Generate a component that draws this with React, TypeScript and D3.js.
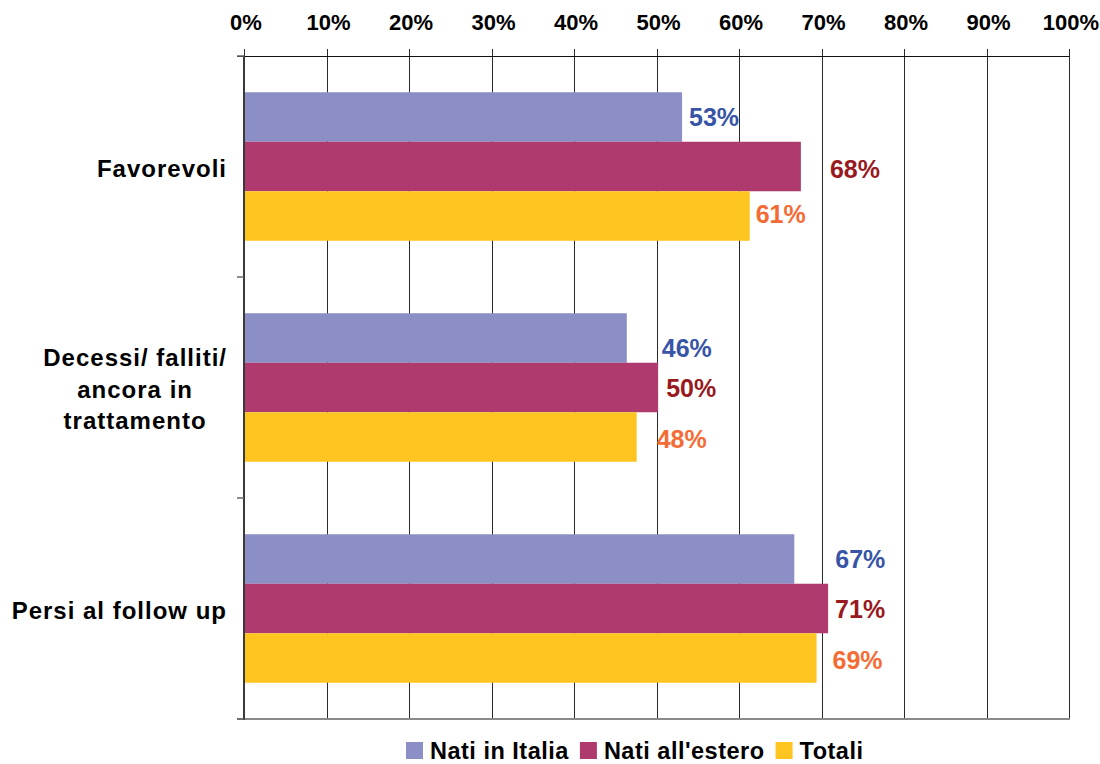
import React, { useEffect, useRef } from "react";
import * as d3 from "d3";

// ---- data ----
const categories = ["Favorevoli", "Decessi/ falliti/\nancora in\ntrattamento", "Persi al follow up"];
const seriesNames = ["Nati in Italia", "Nati all'estero", "Totali"];
const natiInItalia = [53.1, 46.4, 66.7];
const natiAllEstero = [67.5, 50.2, 70.8];
const totali = [61.3, 47.6, 69.4];
const tickValues = [0, 10, 20, 30, 40, 50, 60, 70, 80, 90, 100];

// ---- styling / layout ----
const barColors = ["#8C8FC6", "#AE3A6E", "#FEC520"];
const labelColors = ["#3754A6", "#981A20", "#F46B34"];
// label nudges (px) per category, per series
const labelDx = [[7, 29, 6], [35, 8, 20], [41, 7, 16]];
const labelDy = [[0, 2, -2], [10, 0, 2], [0, 0, 2]];

const W = 1100, H = 764;
const M = { left: 244, right: 1069, top: 56, bottom: 719 };
const FONT = "'Liberation Sans', Arial, Helvetica, sans-serif";

export default function App() {
  const ref = useRef<SVGSVGElement | null>(null);

  useEffect(() => {
    const svg = d3.select(ref.current);
    svg.selectAll("*").remove();

    const values = [natiInItalia, natiAllEstero, totali];
    const x = d3.scaleLinear().domain([0, 100]).range([M.left, M.right]);
    const y = d3.scaleBand<number>().domain(d3.range(categories.length)).range([M.top, M.bottom])
      .paddingInner(0.328).paddingOuter(0.164);
    const ySub = d3.scaleBand<number>().domain(d3.range(seriesNames.length)).range([0, y.bandwidth()]).padding(0);
    const step = y.step();

    // gridlines
    const g = svg.append("g");
    tickValues.filter(t => t > 0).forEach(t => {
      g.append("line").attr("x1", Math.round(x(t)) + 0.5).attr("x2", Math.round(x(t)) + 0.5)
        .attr("y1", M.top - 7).attr("y2", M.bottom).attr("stroke", "#2a2a2a").attr("stroke-width", 1);
    });
    // top axis line
    g.append("line").attr("x1", M.left - 7).attr("x2", M.right + 0.5).attr("y1", M.top + 0.5).attr("y2", M.top + 0.5)
      .attr("stroke", "#111").attr("stroke-width", 1);
    g.append("line").attr("x1", M.left + 0.5).attr("x2", M.left + 0.5).attr("y1", M.top - 7).attr("y2", M.top)
      .attr("stroke", "#333");

    // bars
    categories.forEach((c, i) => {
      seriesNames.forEach((s, j) => {
        const v = values[j][i];
        svg.append("rect")
          .attr("x", x(0)).attr("y", (y(i) as number) + (ySub(j) as number))
          .attr("width", x(v) - x(0)).attr("height", ySub.bandwidth())
          .attr("fill", barColors[j]);
      });
    });

    // left axis & bottom line
    svg.append("line").attr("x1", M.left - 7).attr("x2", M.right + 1).attr("y1", M.bottom).attr("y2", M.bottom)
      .attr("stroke", "#8a8a8a").attr("stroke-width", 2);
    svg.append("line").attr("x1", M.left).attr("x2", M.left).attr("y1", M.top).attr("y2", M.bottom + 1)
      .attr("stroke", "#3a3a3a").attr("stroke-width", 2);
    d3.range(categories.length + 1).forEach(k => {
      const yy = M.top + step * k;
      svg.append("line").attr("x1", M.left - 7).attr("x2", M.left).attr("y1", yy).attr("y2", yy)
        .attr("stroke", "#666").attr("stroke-width", 1.5);
    });

    // tick labels
    tickValues.forEach(t => {
      svg.append("text").attr("x", x(t) + 2).attr("y", 30).attr("text-anchor", "middle")
        .attr("font-family", FONT).attr("font-weight", "bold").attr("font-size", 22).attr("fill", "#000")
        .text(t + "%");
    });

    // category labels
    categories.forEach((c, i) => {
      const lines = c.split("\n");
      const center = (y(i) as number) + y.bandwidth() / 2;
      const lh = 31.5;
      const t = svg.append("text").attr("font-family", FONT).attr("font-weight", "bold")
        .attr("font-size", 24).attr("letter-spacing", 1).attr("fill", "#000").attr("text-anchor", "middle");
      const tspans = lines.map((ln, k) =>
        t.append("tspan").attr("y", center + 10 + (k - (lines.length - 1) / 2) * lh).text(ln));
      const widths = tspans.map(ts => (ts.node() as SVGTSpanElement).getComputedTextLength());
      const maxW = d3.max(widths) || 0;
      const cx = 227 - maxW / 2;
      tspans.forEach(ts => ts.attr("x", cx));
    });

    // value labels
    categories.forEach((c, i) => {
      seriesNames.forEach((s, j) => {
        const v = values[j][i];
        const cy = (y(i) as number) + (ySub(j) as number) + ySub.bandwidth() / 2;
        svg.append("text").attr("x", x(v) + labelDx[i][j]).attr("y", cy + labelDy[i][j] + 9)
          .attr("font-family", FONT).attr("font-weight", "bold").attr("font-size", 25)
          .attr("fill", labelColors[j]).text(Math.round(v) + "%");
      });
    });

    // legend
    let lx = 406;
    seriesNames.forEach((s, j) => {
      svg.append("rect").attr("x", lx).attr("y", 742).attr("width", 17).attr("height", 17).attr("fill", barColors[j]);
      const t = svg.append("text").attr("x", lx + 24).attr("y", 759)
        .attr("font-family", FONT).attr("font-weight", "bold").attr("font-size", 23.5).attr("letter-spacing", 0.5)
        .attr("fill", "#000").text(s);
      const w = (t.node() as SVGTextElement).getComputedTextLength();
      lx = lx + 24 + w + 11;
    });
  }, []);

  return (
    <svg ref={ref} width={W} height={H}
      style={{ position: "absolute", left: 0, top: 0, background: "#fff" }} />
  );
}
